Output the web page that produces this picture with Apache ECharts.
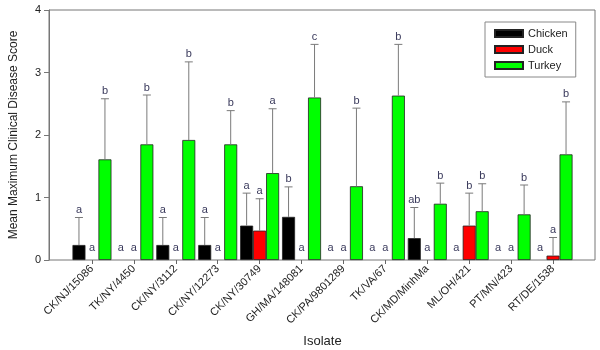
<!DOCTYPE html>
<html lang="en">
<head>
    <meta charset="UTF-8">
    <title>Clinical disease score</title>
    <script src="https://cdn.jsdelivr.net/npm/echarts@6/dist/echarts.min.js"></script>
    <style>
        html, body { margin: 0; padding: 0; background: #fff; }
        #chart { width: 600px; height: 350px; }
    </style>
</head>
<body>
<div id="chart"></div>
<script>
    // data ------------------------------
    var isolates = ['CK/NJ/15086', 'TK/NY/4450', 'CK/NY/3112', 'CK/NY/12273', 'CK/NY/30749', 'GH/MA/148081',
        'CK/PA/9801289', 'TK/VA/67', 'CK/MD/MinhMa', 'ML/OH/421', 'PT/MN/423', 'RT/DE/1538'];
    var chicken = [0.24, 0, 0.24, 0.24, 0.55, 0.69, 0, 0, 0.35, 0, 0, 0];
    var chickenErr = [0.44, 0, 0.44, 0.44, 0.52, 0.48, 0, 0, 0.49, 0, 0, 0];
    var chickenLetters = ['a', 'a', 'a', 'a', 'a', 'b', 'a', 'a', 'ab', 'a', 'a', 'a'];
    var duck = [0, 0, 0, 0, 0.47, 0, 0, 0, 0, 0.55, 0, 0.07];
    var duckErr = [0, 0, 0, 0, 0.51, 0, 0, 0, 0, 0.52, 0, 0.29];
    var duckLetters = ['a', 'a', 'a', 'a', 'a', 'a', 'a', 'a', 'a', 'b', 'a', 'a'];
    var turkey = [1.61, 1.85, 1.92, 1.85, 1.39, 2.60, 1.18, 2.63, 0.90, 0.78, 0.73, 1.69];
    var turkeyErr = [0.97, 0.79, 1.25, 0.54, 1.03, 0.85, 1.25, 0.82, 0.33, 0.44, 0.47, 0.84];
    var turkeyLetters = ['b', 'b', 'b', 'b', 'a', 'c', 'b', 'b', 'b', 'b', 'b', 'b'];
    var yTicks = [0, 1, 2, 3, 4];

    var font = 'Liberation Sans, Arial, sans-serif';
    var gapPct = 0.07;

    // error bars + letters, drawn over the bars
    function errSeries(name, slot, means, errs, letters) {
        return {
            name: name + ' err',
            type: 'custom',
            xAxisIndex: 1,
            yAxisIndex: 1,
            z: 5,
            data: means.map(function (m, i) { return [i, m, errs[i]]; }),
            encode: {x: 0, y: 1},
            renderItem: function (params, api) {
                var i = api.value(0), m = api.value(1), e = api.value(2);
                var band = api.size([1, 0])[0];
                var barW = band * (1 - gapPct) / 3;
                var cx = api.coord([i, 0])[0] + (slot - 1) * barW;
                var yb = api.coord([i, m])[1];
                var yt = api.coord([i, m + e])[1];
                var kids = [];
                var st = {stroke: '#7a7a7a', lineWidth: 1};
                if (e > 0) {
                    kids.push({type: 'line', shape: {x1: cx, y1: yb, x2: cx, y2: yt}, style: st});
                    kids.push({type: 'line', shape: {x1: cx - 4, y1: yt, x2: cx + 4, y2: yt}, style: st});
                }
                kids.push({
                    type: 'text',
                    style: {
                        text: letters[params.dataIndex],
                        x: cx, y: yt - (m + e > 0 ? 2 : 7),
                        align: 'center', verticalAlign: 'bottom',
                        fill: '#3a3a5c', font: '11px ' + font
                    }
                });
                return {type: 'group', children: kids};
            }
        };
    }

    function barSeries(name, data, color) {
        return {
            name: name,
            type: 'bar',
            xAxisIndex: 1,
            yAxisIndex: 1,
            barGap: 0,
            barCategoryGap: (gapPct * 100) + '%',
            itemStyle: {color: color, borderColor: '#222', borderWidth: 0.8},
            // zero means: no visible bar outline
            data: data.map(function (v) {
                return v > 0 ? v : {value: v, itemStyle: {borderWidth: 0, opacity: 0}};
            })
        };
    }

    var chart = echarts.init(document.getElementById('chart'));
    var option = {
        animation: false,
        textStyle: {fontFamily: font},
        legend: {
            data: ['Chicken', 'Duck', 'Turkey'],
            orient: 'vertical',
            left: 485,
            top: 22,
            width: 103,
            padding: [6, 8, 6, 9],
            itemGap: 5,
            itemWidth: 28,
            itemHeight: 7,
            borderColor: '#888',
            borderWidth: 1,
            textStyle: {fontSize: 11, color: '#222', fontFamily: font},
            icon: 'rect'
        },
        grid: [
            {left: 49, right: 5, top: 10, bottom: 90, show: true, borderColor: '#777', borderWidth: 1,
                outerBoundsMode: 'none'},
            {left: 71, right: 26, top: 10, bottom: 90, outerBoundsMode: 'none'}
        ],
        xAxis: [
            {gridIndex: 0, type: 'value', min: 0, max: 1, show: false},
            {
                gridIndex: 1,
                type: 'category',
                data: isolates,
                name: 'Isolate',
                nameLocation: 'middle',
                nameGap: 75,
                nameTextStyle: {fontSize: 13, color: '#222', fontFamily: font},
                axisLine: {show: false},
                axisTick: {show: true, alignWithLabel: true, length: 4, lineStyle: {color: '#666'}},
                axisLabel: {rotate: 45, fontSize: 11, color: '#222', margin: 7, interval: 0, fontFamily: font}
            }
        ],
        yAxis: [
            {
                gridIndex: 0,
                type: 'value',
                min: yTicks[0],
                max: yTicks[yTicks.length - 1],
                interval: 1,
                name: 'Mean Maximum Clinical Disease Score',
                nameLocation: 'middle',
                nameGap: 29,
                nameTextStyle: {fontSize: 12, color: '#222', fontFamily: font},
                axisLine: {show: true, lineStyle: {color: '#777'}},
                axisTick: {show: true, length: 5, lineStyle: {color: '#777'}},
                axisLabel: {fontSize: 11, color: '#222', margin: 8, fontFamily: font},
                splitLine: {show: false}
            },
            {gridIndex: 1, type: 'value', min: 0, max: 4, show: false}
        ],
        series: [
            barSeries('Chicken', chicken, '#000000'),
            barSeries('Duck', duck, '#ff0000'),
            barSeries('Turkey', turkey, '#00ff00'),
            errSeries('Chicken', 0, chicken, chickenErr, chickenLetters),
            errSeries('Duck', 1, duck, duckErr, duckLetters),
            errSeries('Turkey', 2, turkey, turkeyErr, turkeyLetters)
        ]
    };
    chart.setOption(option);
</script>
</body>
</html>
